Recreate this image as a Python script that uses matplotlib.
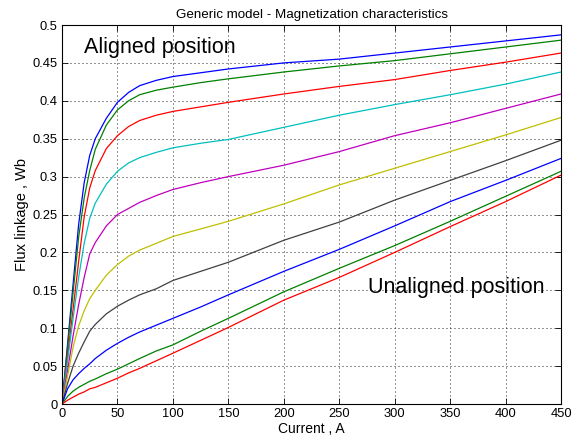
import numpy as np
import matplotlib
matplotlib.use('Agg')
import matplotlib.pyplot as plt

plt.rcParams['font.family'] = ['Liberation Sans', 'DejaVu Sans']

# current points (A) shared by all curves
current = [0, 5, 10, 15, 20, 25, 30, 40, 50, 60, 70, 85, 100, 125, 150,
           200, 250, 300, 350, 400, 450]

# flux linkage (Wb), aligned position first, unaligned last
flux_1 = [0, 0.079, 0.158, 0.237, 0.292, 0.328, 0.350, 0.377, 0.398, 0.411, 0.420,
          0.427, 0.432, 0.437, 0.442, 0.450, 0.455, 0.463, 0.471, 0.479, 0.487]
flux_2 = [0, 0.074, 0.147, 0.220, 0.272, 0.308, 0.336, 0.368, 0.388, 0.400, 0.408,
          0.414, 0.418, 0.424, 0.429, 0.438, 0.446, 0.453, 0.462, 0.471, 0.480]
flux_3 = [0, 0.063, 0.125, 0.188, 0.247, 0.285, 0.308, 0.337, 0.354, 0.366, 0.374,
          0.381, 0.386, 0.392, 0.398, 0.409, 0.419, 0.428, 0.440, 0.451, 0.463]
flux_4 = [0, 0.057, 0.113, 0.167, 0.212, 0.245, 0.265, 0.290, 0.307, 0.318, 0.325,
          0.332, 0.338, 0.344, 0.349, 0.365, 0.381, 0.395, 0.408, 0.422, 0.438]
flux_5 = [0, 0.044, 0.090, 0.131, 0.167, 0.198, 0.213, 0.235, 0.250, 0.258, 0.266,
          0.275, 0.283, 0.292, 0.300, 0.315, 0.333, 0.354, 0.371, 0.390, 0.409]
flux_6 = [0, 0.037, 0.075, 0.103, 0.123, 0.139, 0.150, 0.170, 0.184, 0.195, 0.203,
          0.212, 0.221, 0.231, 0.241, 0.264, 0.289, 0.311, 0.333, 0.355, 0.378]
flux_7 = [0, 0.027, 0.050, 0.067, 0.082, 0.096, 0.105, 0.119, 0.129, 0.137, 0.144,
          0.152, 0.163, 0.175, 0.187, 0.216, 0.240, 0.269, 0.295, 0.321, 0.348]
flux_8 = [0, 0.020, 0.032, 0.040, 0.047, 0.053, 0.060, 0.071, 0.080, 0.088, 0.095,
          0.104, 0.113, 0.128, 0.144, 0.175, 0.204, 0.235, 0.267, 0.295, 0.324]
flux_9 = [0, 0.010, 0.017, 0.022, 0.026, 0.030, 0.033, 0.040, 0.046, 0.053, 0.060,
          0.070, 0.078, 0.096, 0.113, 0.148, 0.179, 0.209, 0.241, 0.274, 0.307]
flux_10 = [0, 0.005, 0.009, 0.013, 0.016, 0.020, 0.022, 0.028, 0.034, 0.041, 0.047,
           0.057, 0.067, 0.084, 0.101, 0.137, 0.167, 0.200, 0.234, 0.267, 0.302]

curves = [flux_1, flux_2, flux_3, flux_4, flux_5, flux_6, flux_7, flux_8, flux_9, flux_10]
# old MATLAB colour order
colors = [(0, 0, 1), (0, 0.5, 0), (1, 0, 0), (0, 0.75, 0.75), (0.75, 0, 0.75),
          (0.75, 0.75, 0), (0.25, 0.25, 0.25)]

x_ticks = np.arange(0, 451, 50)
y_ticks = np.arange(0, 0.501, 0.05)
y_labels = ['0', '0.05', '0.1', '0.15', '0.2', '0.25', '0.3', '0.35', '0.4', '0.45', '0.5']

fig = plt.figure(figsize=(5.72, 4.45), dpi=100)
ax = fig.add_axes([0.1084, 0.0921, 0.8724, 0.8517])

for i, flux in enumerate(curves):
    ax.plot(current, flux, color=colors[i % len(colors)], lw=0.9)

ax.set_xlim(0, 450)
ax.set_ylim(0, 0.5)
ax.set_xticks(x_ticks)
ax.set_yticks(y_ticks)
ax.set_yticklabels(y_labels)
ax.tick_params(direction='in', top=True, right=True, length=4, width=0.6,
               labelsize=9.3, pad=3)
ax.grid(True, linestyle=(0, (1.2, 3.6)), color='black', lw=0.6)
for s in ax.spines.values():
    s.set_linewidth(0.8)

ax.set_title('Generic model - Magnetization characteristics', fontsize=9.6, pad=5)
ax.set_xlabel('Current , A', fontsize=10, labelpad=1)
ax.set_ylabel('Flux linkage , Wb', fontsize=10.5, labelpad=3)

ax.text(20, 0.470, 'Aligned position', fontsize=15.5, va='center')
ax.text(276, 0.154, 'Unaligned position', fontsize=15.5, va='center')

fig.savefig('out.png', dpi=100)
